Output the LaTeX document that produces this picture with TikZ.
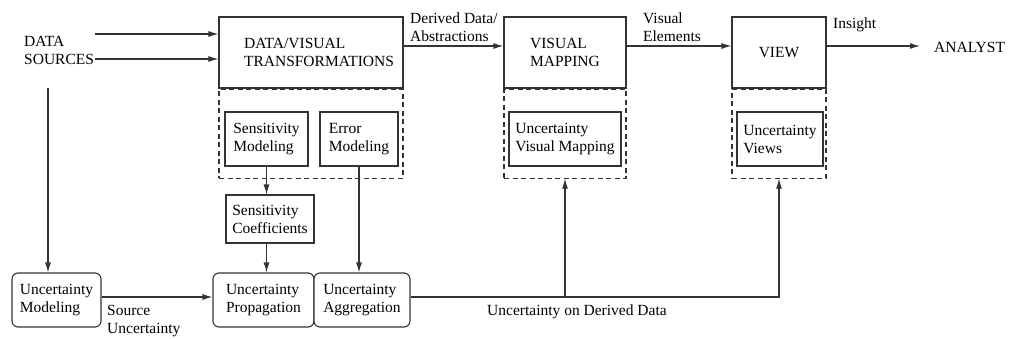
\documentclass[tikz,border=0pt]{standalone}
\usepackage{fontspec}
\setmainfont{Liberation Serif}
\usetikzlibrary{positioning,arrows.meta,calc}
\begin{document}
\begin{tikzpicture}[x=1pt,y=-1pt,font=\fontsize{15.5}{18}\selectfont,align=left,
 box/.style={draw=linegray,line width=1.1pt,fill=white,inner sep=0pt},
 ubox/.style={box,rounded corners=6pt},
 dashbox/.style={draw=linegray,line width=1.1pt,dash pattern=on 5pt off 3.5pt,inner sep=0pt},
 flow/.style={-{Latex[length=10pt,width=6pt]},line width=1.1pt,draw=linegray},
 tag/.style={anchor=north west,inner sep=0pt}]
\definecolor{linegray}{HTML}{333333}
\useasboundingbox (0,0) rectangle (1013,338);
\coordinate (mainrow) at (0,46);
\coordinate (lowrow) at (0,297);
\node[box,minimum width=184pt,minimum height=71pt,
 label={[align=left,xshift=8pt]center:{DATA/VISUAL\\TRANSFORMATIONS}}] (dvt) at (311,52.5) {};
\node[box,minimum width=122pt,minimum height=71pt] (vm) at (565,52.5) {VISUAL\\MAPPING};
\node[box,minimum width=94pt,minimum height=71pt] (view) at (779,52.5) {VIEW};
\node[dashbox,minimum width=184pt,minimum height=89pt,below=0pt of dvt] (dvtx) {};
\node[dashbox,minimum width=122pt,minimum height=89pt,below=0pt of vm] (vmx) {};
\node[dashbox,minimum width=94pt,minimum height=89pt,below=0pt of view] (viewx) {};
\node[box,minimum width=83pt,minimum height=54pt] (sensmod) at (266.5,139) {Sensitivity\\Modeling};
\node[box,minimum width=78pt,minimum height=54pt] (errmod) at (359,139) {Error\\Modeling};
\node[box,minimum width=112pt,minimum height=54pt] (uvm) at (565,139) {Uncertainty\\Visual Mapping};
\node[box,minimum width=86pt,minimum height=54pt] (uviews) at (780,139) {Uncertainty\\Views};
\node[box,minimum width=88pt,minimum height=48pt] (senscoef) at (270,219) {Sensitivity\\Coefficients};
\node[ubox,minimum width=89pt,minimum height=54pt] (umod) at (56.5,300) {Uncertainty\\Modeling};
\node[ubox,minimum width=101pt,minimum height=54pt] (uprop) at (263.5,300) {Uncertainty\\Propagation};
\node[ubox,minimum width=96pt,minimum height=54pt] (uagg) at (362,300) {Uncertainty\\Aggregation};
\node[tag] (sources) at (24,36.5) {DATA\\SOURCES};
\node[tag] (derived) at (410,12.4) {Derived Data/\\Abstractions};
\node[tag] (elements) at (643,12.4) {Visual\\Elements};
\node[tag] (insight) at (833,17.4) {Insight};
\node[anchor=west,inner sep=0pt] (analyst) at (934,47) {ANALYST};
\node[tag] (srcunc) at (107,305.5) {Source\\Uncertainty};
\node[tag] (uderived) at (487,304.4) {Uncertainty on Derived Data};
\coordinate (in1) at (95,34);
\coordinate (in2) at (95,59);
\coordinate (srcdown) at (48,88);
\draw[flow] (in1) -- (in1 -| dvt.west);
\draw[flow] (in2) -- (in2 -| dvt.west);
\draw[flow] (dvt.east |- mainrow) -- (vm.west |- mainrow);
\draw[flow] (vm.east |- mainrow) -- (view.west |- mainrow);
\draw[flow] (view.east |- mainrow) -- ([xshift=-14pt]analyst.west |- mainrow);
\draw[flow] (srcdown) -- (srcdown |- umod.north);
\draw[flow] (sensmod.south) -- (sensmod.south |- senscoef.north);
\draw[flow] (senscoef.south -| sensmod.south) -- (sensmod.south |- uprop.north);
\draw[flow] (errmod.south) -- (errmod.south |- uagg.north);
\draw[flow] (umod.east |- lowrow) -- (uprop.west |- lowrow);
% derived uncertainty feeds both dashed extensions
\draw[flow] (uagg.east |- lowrow) -| (viewx.south);
\draw[flow] (vmx.south |- lowrow) -- (vmx.south);
\end{tikzpicture}
\end{document}
